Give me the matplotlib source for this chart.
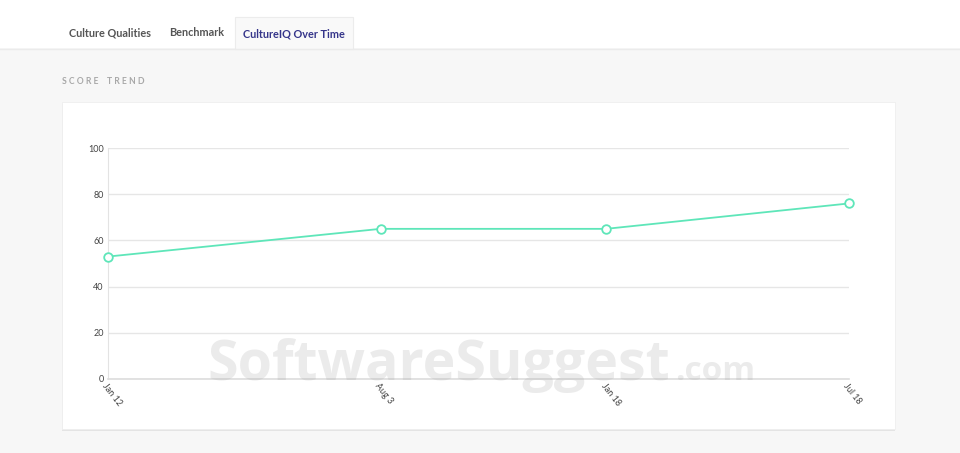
import matplotlib.pyplot as plt
import matplotlib.dates as mdates
from matplotlib.patches import Rectangle
from datetime import date

# dados
datas = [date(2017, 1, 12), date(2017, 8, 3), date(2018, 1, 18), date(2018, 7, 18)]
rotulos = ['Jan 12', 'Aug 3', 'Jan 18', 'Jul 18']
pontuacao = [53, 65, 65, 76]
ticks_y = [0, 20, 40, 60, 80, 100]
abas = ['Culture Qualities', 'Benchmark', 'CultureIQ Over Time']

W, H = 960, 453
plt.rcParams['font.family'] = ['Lato', 'DejaVu Sans']

fig = plt.figure(figsize=(W / 100, H / 100), dpi=100)
fig.patch.set_facecolor('#f7f7f7')


def caixa(x0, y0, x1, y1):
    # pixels (origem no topo) -> coordenadas da figura
    return (x0 / W, 1 - y1 / H), (x1 - x0) / W, (y1 - y0) / H


def retangulo(x0, y0, x1, y1, **kw):
    xy, w, h = caixa(x0, y0, x1, y1)
    fig.add_artist(Rectangle(xy, w, h, transform=fig.transFigure, zorder=-5, **kw))


# faixa branca do topo com as abas
retangulo(0, 0, W, 48, facecolor='white', edgecolor='none')
fig.add_artist(plt.Line2D([0, 1], [1 - 48.5 / H] * 2, transform=fig.transFigure, color='#ebebeb', lw=1, zorder=-4))
retangulo(235, 17, 353, 49, facecolor='#f9f9f9', edgecolor='#ececec', lw=0.8)

fig.text(69 / W, 1 - 33 / H, abas[0], fontsize=7.8, color='#555555', weight='bold', va='center')
fig.text(169 / W, 1 - 33 / H, abas[1], fontsize=7.8, color='#555555', weight='bold', va='center')
fig.text(243 / W, 1 - 34 / H, abas[2], fontsize=7.8, color='#35358a', weight='bold', va='center')

fig.text(62 / W, 1 - 82 / H, 'S C O R E    T R E N D', fontsize=6.2, color='#a8a8a8', weight='bold', va='center')

# cartão branco
retangulo(62, 103.5, 895, 430.5, facecolor='#e4e4e4', edgecolor='none')
retangulo(62, 102, 895, 429, facecolor='white', edgecolor='#eeeeee', lw=0.6)

# gráfico
ax = fig.add_axes([108 / W, 1 - 379 / H, 741 / W, 231 / H])
ax.set_facecolor('none')
ax.plot(datas, pontuacao, color='#5ee6b9', lw=1.3, marker='o', ms=6.2,
        markerfacecolor='white', markeredgecolor='#5ee6b9', markeredgewidth=1.3, zorder=3, clip_on=False)
ax.set_xlim(datas[0], datas[-1])
ax.set_ylim(0, 100)
ax.set_yticks(ticks_y)
ax.set_xticks(mdates.date2num(datas))
ax.set_xticklabels(rotulos, rotation=-52, ha='left', va='top', rotation_mode='anchor')
ax.grid(axis='y', color='#e6e6e6', lw=1)
ax.tick_params(length=0, labelsize=6.5, labelcolor='#444444')
ax.tick_params(axis='y', pad=3)
ax.tick_params(axis='x', pad=2)
for lado in ['top', 'right']:
    ax.spines[lado].set_visible(False)
ax.spines['left'].set_color('#e3e3e3')
ax.spines['bottom'].set_color('#dddddd')
ax.spines['bottom'].set_linewidth(1.2)

# marca d'água
fig.text(207 / W, 1 - 380 / H, 'SoftwareSuggest', fontsize=40, color='#b0b0b0', alpha=0.25, weight='bold',
         family=['Open Sans', 'DejaVu Sans'], va='baseline', zorder=5)
fig.text(675 / W, 1 - 380 / H, '.com', fontsize=24, color='#b0b0b0', alpha=0.25, weight='bold',
         family=['Open Sans', 'DejaVu Sans'], va='baseline', zorder=5)

fig.savefig('out.png', dpi=100, facecolor=fig.get_facecolor())
